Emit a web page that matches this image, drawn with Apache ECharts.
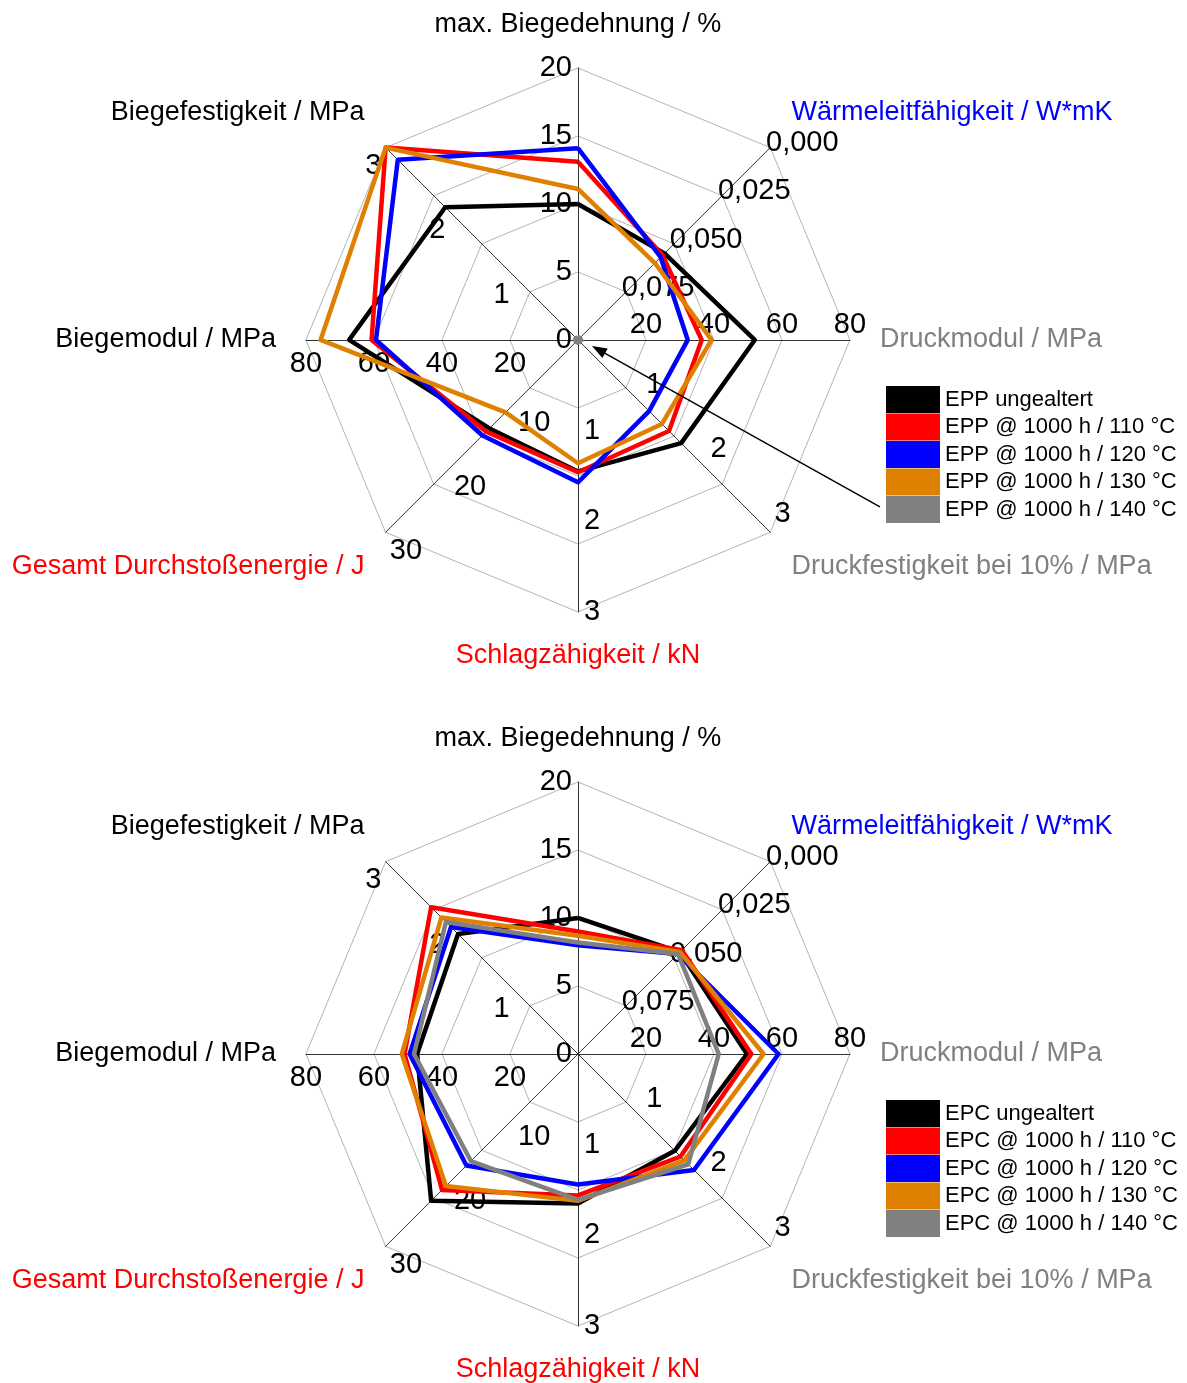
<!DOCTYPE html>
<html><head><meta charset="utf-8">
<script src="https://cdn.jsdelivr.net/npm/echarts@6/dist/echarts.min.js"></script>
<style>html,body{margin:0;padding:0;background:#fff}#c{width:1187px;height:1383px}</style>
</head><body><div id="c"></div>
<script>
const FONT = "'Liberation Sans', Arial, sans-serif";

// Axes (counter-clockwise from the top)
const axisNames = ['max. Biegedehnung / %', 'Biegefestigkeit / MPa', 'Biegemodul / MPa',
  'Gesamt Durchstoßenergie / J', 'Schlagzähigkeit / kN', 'Druckfestigkeit bei 10% / MPa',
  'Druckmodul / MPa', 'Wärmeleitfähigkeit / W*mK'];
const axisNameColors = ['#000000', '#000000', '#000000', '#ff0000', '#ff0000', '#808080', '#808080', '#0000ff'];
const axisMax = [20, 3, 80, 30, 3, 3, 80, 0.1];
const quarterLabelAxes = [true, false, true, false, false, false, true, true];
const thermalIndex = 7; // inverted axis: 0,100 in the centre, 0,000 at the rim

const eppNames = ['EPP ungealtert', 'EPP @ 1000 h / 110 °C', 'EPP @ 1000 h / 120 °C', 'EPP @ 1000 h / 130 °C', 'EPP @ 1000 h / 140 °C'];
const epcNames = ['EPC ungealtert', 'EPC @ 1000 h / 110 °C', 'EPC @ 1000 h / 120 °C', 'EPC @ 1000 h / 130 °C', 'EPC @ 1000 h / 140 °C'];
const seriesColors = ['#000000', '#ff0000', '#0000ff', '#e08000', '#808080'];

// values in axis order: Biegedehnung, Biegefestigkeit, Biegemodul, Durchstoßenergie,
// Schlagzähigkeit, Druckfestigkeit, Druckmodul, Wärmeleitfähigkeit
const eppUngealtert = [10.0, 2.07, 67.3, 13.8, 1.45, 1.61, 52.0, 0.055];
const epp110 = [13.1, 3.0, 60.7, 14.3, 1.46, 1.42, 36.4, 0.056];
const epp120 = [14.1, 2.81, 59.4, 14.9, 1.57, 1.11, 32.3, 0.057];
const epp130 = [11.1, 3.0, 75.7, 11.3, 1.36, 1.31, 39.3, 0.060];
const epp140 = [0.2, 0.03, 0.9, 0.3, 0.03, 0.03, 0.9, 0.0989];

const epcUngealtert = [10.0, 1.87, 47.3, 22.9, 1.65, 1.51, 49.7, 0.047];
const epc110 = [9.0, 2.29, 51.0, 21.2, 1.56, 1.60, 51.0, 0.046];
const epc120 = [8.0, 1.98, 49.5, 17.4, 1.44, 1.81, 59.0, 0.048];
const epc130 = [8.7, 2.13, 51.8, 20.6, 1.62, 1.66, 54.6, 0.047];
const epc140 = [8.2, 2.06, 48.2, 16.7, 1.61, 1.72, 41.4, 0.048];

const eppData = [eppUngealtert, epp110, epp120, epp130, epp140];
const epcData = [epcUngealtert, epc110, epc120, epc130, epc140];

function nameVAlign(i) {
  if (i === 1 || i === 7) return 'bottom';
  if (i === 3 || i === 5) return 'top';
  return null;
}
function indicatorsQuarter() {
  return axisNames.map((n, i) => {
    const ind = {
      name: n, min: 0, max: axisMax[i], color: axisNameColors[i],
      axisLabel: { show: quarterLabelAxes[i], showMinLabel: i === 0 }
    };
    const va = nameVAlign(i);
    if (va) ind.nameTextStyle = { verticalAlign: va };
    if (i === thermalIndex) {
      ind.axisLabel.formatter = v => (0.1 - v).toFixed(3).replace('.', ',');
      ind.axisLabel.align = 'left';
    }
    if (i === 2) ind.axisLabel.margin = 10;
    if (i === 6) ind.axisLabel.margin = 0;
    return ind;
  });
}
function indicatorsThird() {
  return axisNames.map((n, i) => {
    const ind = {
      name: '', min: 0, max: axisMax[i],
      axisLabel: { show: !quarterLabelAxes[i], showMinLabel: false }
    };
    if (i === 1 || i === 3) ind.axisLabel.verticalAlign = 'top';
    if (i === 5) ind.axisLabel.verticalAlign = 'bottom';
    return ind;
  });
}
const labelStyle = { show: true, color: '#000', fontSize: 29, fontFamily: FONT, margin: 6 };
function radarPair(cy) {
  const base = { center: ['48.69%', cy], radius: 272, startAngle: 90, shape: 'polygon' };
  return [
    Object.assign({}, base, {
      splitNumber: 4, indicator: indicatorsQuarter(), nameGap: 30,
      axisName: { color: '#000', fontSize: 27, fontFamily: FONT },
      axisLine: { lineStyle: { color: '#333', width: 1 } },
      splitLine: { lineStyle: { color: '#b4b4b4', width: 1 } },
      splitArea: { show: false }, axisTick: { show: false },
      axisLabel: labelStyle, z: 1
    }),
    Object.assign({}, base, {
      splitNumber: 3, indicator: indicatorsThird(),
      axisName: { show: false },
      axisLine: { show: false }, splitLine: { show: false }, splitArea: { show: false },
      axisTick: { show: false }, axisLabel: labelStyle, z: 1
    })
  ];
}
function toRadarValues(arr) {
  return arr.map((v, i) => i === thermalIndex ? 0.1 - v : v);
}
function makeSeries(names, data, radarIndex) {
  return names.map((n, k) => ({
    type: 'radar', name: n, radarIndex: radarIndex, symbol: 'none',
    lineStyle: { color: seriesColors[k], width: 4.5 },
    itemStyle: { color: seriesColors[k] },
    emphasis: { disabled: true }, z: 5,
    data: [{ name: n, value: toRadarValues(data[k]) }]
  }));
}
const legendBase = {
  orient: 'vertical', left: 886, padding: 0, itemWidth: 54, itemHeight: 27, itemGap: 0.5,
  icon: 'rect', selectedMode: false,
  textStyle: { fontSize: 22, fontFamily: FONT, color: '#000' }
};

const chart = echarts.init(document.getElementById('c'), null, { renderer: 'canvas' });
chart.setOption({
  animation: false,
  backgroundColor: '#fff',
  radar: radarPair('24.58%').concat(radarPair('76.21%')),
  legend: [
    Object.assign({}, legendBase, { data: eppNames, top: 386 }),
    Object.assign({}, legendBase, { data: epcNames, top: 1100 })
  ],
  series: makeSeries(eppNames, eppData, 0).concat(makeSeries(epcNames, epcData, 2))
});

// annotation arrow from the legend towards the collapsed grey EPP series in the centre
const rc = chart.getModel().getComponent('radar', 0).coordinateSystem;
const x1 = rc.cx + 302, y1 = rc.cy + 167, x2 = rc.cx + 14, y2 = rc.cy + 6;
const L = Math.hypot(x1 - x2, y1 - y2), ux = (x1 - x2) / L, uy = (y1 - y2) / L;
const hl = 15, hw = 5.5;
chart.setOption({
  graphic: [
    { type: 'line', shape: { x1: x1, y1: y1, x2: x2 + ux * hl * 0.8, y2: y2 + uy * hl * 0.8 }, style: { stroke: '#000', lineWidth: 1.5 }, z: 10 },
    { type: 'polygon', shape: { points: [[x2, y2], [x2 + ux * hl - uy * hw, y2 + uy * hl + ux * hw], [x2 + ux * hl + uy * hw, y2 + uy * hl - ux * hw]] }, style: { fill: '#000' }, z: 10 }
  ]
});
</script>
</body></html>
